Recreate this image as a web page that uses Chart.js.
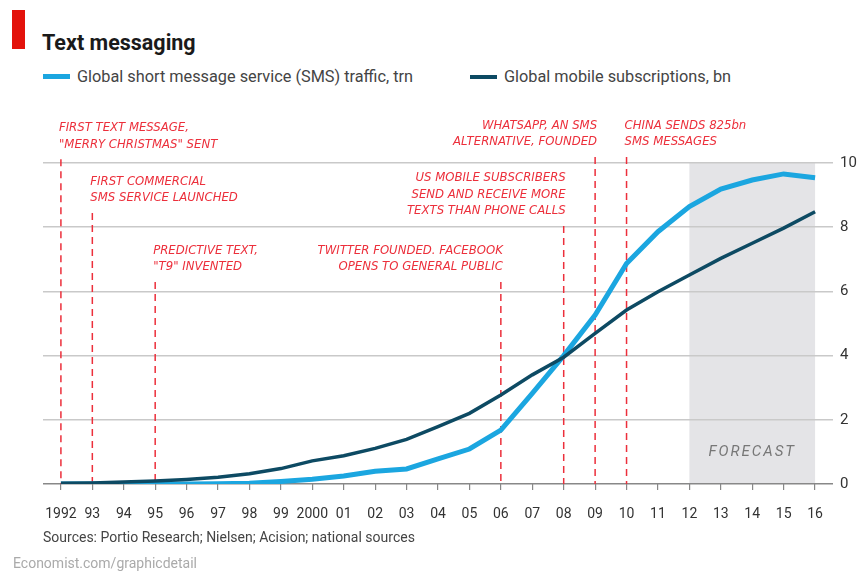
<!DOCTYPE html>
<html>
<head>
<meta charset="utf-8">
<script src="https://cdn.jsdelivr.net/npm/chart.js@4.4.0/dist/chart.umd.min.js"></script>
<style>
  html, body { margin: 0; padding: 0; background: #fff; }
  body { width: 861px; height: 571px; position: relative; overflow: hidden; font-family: Roboto, 'Liberation Sans', sans-serif; color: #333; }
  #chart { position: absolute; left: 0; top: 0; }
  .abs { position: absolute; white-space: nowrap; }
  .bar { left: 12px; top: 10px; width: 13px; height: 39px; background: #e3120b; }
  .title { left: 42px; top: 30px; font-size: 21.5px; font-weight: bold; color: #1a1a1a; }
  .swatch { height: 5px; width: 27px; }
  .leg { font-size: 16.3px; color: #444; }
  .src { left: 43px; top: 529px; font-size: 14px; color: #444; }
  .foot { left: 13px; top: 555px; font-size: 14px; color: #aaa; }
</style>
</head>
<body>
<div class="abs bar"></div>
<div class="abs title">Text messaging</div>
<div class="abs swatch" style="left:43px; top:74px; background:#1ba6e0;"></div>
<div class="abs leg" style="left:77px; top:67px;">Global short message service (SMS) traffic, trn</div>
<div class="abs swatch" style="left:470px; top:75px; height:4px; background:#0d4a63;"></div>
<div class="abs leg" style="left:504px; top:67px;">Global mobile subscriptions, bn</div>
<canvas id="chart" width="861" height="571"></canvas>
<div class="abs src">Sources: Portio Research; Nielsen; Acision; national sources</div>
<div class="abs foot">Economist.com/graphicdetail</div>

<script>
const years = [1992, 1993, 1994, 1995, 1996, 1997, 1998, 1999, 2000, 2001, 2002, 2003, 2004,
  2005, 2006, 2007, 2008, 2009, 2010, 2011, 2012, 2013, 2014, 2015, 2016];
const yearLabels = ['1992', '93', '94', '95', '96', '97', '98', '99', '2000', '01', '02', '03', '04',
  '05', '06', '07', '08', '09', '10', '11', '12', '13', '14', '15', '16'];

// trillions of messages
const smsTraffic = [0, 0, 0, 0, 0, 0.01, 0.02, 0.08, 0.15, 0.25, 0.4, 0.47, 0.78,
  1.09, 1.68, 2.82, 4.0, 5.26, 6.87, 7.86, 8.64, 9.19, 9.47, 9.66, 9.54];
// billions of subscriptions
const mobileSubs = [0.02, 0.03, 0.06, 0.09, 0.14, 0.21, 0.32, 0.48, 0.72, 0.88, 1.11, 1.39, 1.79,
  2.2, 2.77, 3.4, 3.95, 4.69, 5.42, 5.99, 6.51, 7.03, 7.5, 7.97, 8.48];

const forecastFrom = 2012;
const forecastTo = 2016;

const events = [
  { year: 1992, top: 10.12, align: 'left', lines: ['FIRST TEXT MESSAGE,', '"MERRY CHRISTMAS" SENT'] },
  { year: 1993, top: 8.44, align: 'left', lines: ['FIRST COMMERCIAL', 'SMS SERVICE LAUNCHED'] },
  { year: 1995, top: 6.29, align: 'left', lines: ['PREDICTIVE TEXT,', '"T9" INVENTED'] },
  { year: 2006, top: 6.29, align: 'right', lines: ['TWITTER FOUNDED. FACEBOOK', 'OPENS TO GENERAL PUBLIC'] },
  { year: 2008, top: 8.04, align: 'right', lines: ['US MOBILE SUBSCRIBERS', 'SEND AND RECEIVE MORE', 'TEXTS THAN PHONE CALLS'] },
  { year: 2009, top: 10.19, align: 'right', lines: ['WHATSAPP, AN SMS', 'ALTERNATIVE, FOUNDED'] },
  { year: 2010, top: 10.19, align: 'left', lines: ['CHINA SENDS 825bn', 'SMS MESSAGES'] }
];

const RED = '#ec2f3b';

// grey forecast band, drawn under the grid
const forecastBand = {
  id: 'forecastBand',
  beforeDraw(chart) {
    const { ctx, chartArea, scales: { x } } = chart;
    const x0 = x.getPixelForValue(forecastFrom);
    const x1 = x.getPixelForValue(forecastTo);
    ctx.save();
    ctx.fillStyle = '#e4e4e7';
    ctx.fillRect(x0, chartArea.top, x1 - x0, chartArea.bottom - chartArea.top);
    ctx.restore();
  },
  beforeDatasetsDraw(chart) {
    const { ctx, scales: { x, y } } = chart;
    ctx.save();
    ctx.fillStyle = '#777';
    ctx.font = 'italic 15px Roboto, "Liberation Sans", sans-serif';
    ctx.letterSpacing = '2px';
    ctx.textAlign = 'center';
    ctx.textBaseline = 'middle';
    ctx.fillText('FORECAST', (x.getPixelForValue(forecastFrom) + x.getPixelForValue(forecastTo)) / 2, y.getPixelForValue(1));
    ctx.restore();
  }
};

// red dashed event markers with their notes
const eventMarkers = {
  id: 'eventMarkers',
  beforeDatasetsDraw(chart) {
    const { ctx, chartArea, scales: { x, y } } = chart;
    ctx.save();
    ctx.strokeStyle = RED;
    ctx.fillStyle = RED;
    ctx.lineWidth = 1.5;
    ctx.setLineDash([7, 5]);
    ctx.font = 'italic 13px "Liberation Sans Narrow", "DejaVu Sans Condensed", sans-serif';
    ctx.textBaseline = 'middle';
    events.forEach(ev => {
      const px = x.getPixelForValue(ev.year);
      const top = y.getPixelForValue(ev.top);
      ctx.beginPath();
      ctx.moveTo(px, top);
      ctx.lineTo(px, chartArea.bottom);
      ctx.stroke();
      ctx.textAlign = ev.align;
      const n = ev.lines.length;
      ev.lines.forEach((t, i) => {
        ctx.fillText(t, px + (ev.align === 'left' ? -2 : 2), top - 15 - (n - 1 - i) * 16.5);
      });
    });
    ctx.restore();
  }
};

new Chart(document.getElementById('chart').getContext('2d'), {
  type: 'line',
  data: {
    datasets: [
      {
        label: 'Global mobile subscriptions, bn',
        data: years.map((yr, i) => ({ x: yr, y: mobileSubs[i] })),
        borderColor: '#0d4a63',
        borderWidth: 3.5,
        pointRadius: 0,
        tension: 0
      },
      {
        label: 'Global short message service (SMS) traffic, trn',
        data: years.map((yr, i) => ({ x: yr, y: smsTraffic[i] })),
        borderColor: '#1ba6e0',
        borderWidth: 5,
        pointRadius: 0,
        tension: 0
      }
    ]
  },
  options: {
    responsive: false,
    animation: false,
    layout: { padding: { left: 43, top: 163, right: 0, bottom: 49 } },
    plugins: {
      legend: { display: false },
      tooltip: { enabled: false }
    },
    scales: {
      x: {
        type: 'linear',
        min: 1991.43,
        max: 2016.57,
        afterBuildTicks: scale => { scale.ticks = years.map(v => ({ value: v })); },
        afterFit: scale => { scale.height = 38; },
        ticks: {
          autoSkip: false,
          maxRotation: 0,
          padding: 16,
          color: '#333',
          font: { family: 'Roboto, "Liberation Sans", sans-serif', size: 14 },
          callback: v => yearLabels[years.indexOf(v)]
        },
        grid: { drawOnChartArea: false, drawTicks: true, tickLength: 6, color: '#888', lineWidth: 1.2 },
        border: { display: false }
      },
      y: {
        position: 'right',
        min: 0,
        max: 10,
        afterFit: scale => { scale.width = 28; },
        ticks: {
          stepSize: 2,
          padding: 7,
          color: '#333',
          font: { family: 'Roboto, "Liberation Sans", sans-serif', size: 15 }
        },
        grid: {
          drawTicks: false,
          color: ctx => ctx.tick && ctx.tick.value === 0 ? '#888' : '#c9c9c9',
          lineWidth: 1.5
        },
        border: { display: false }
      }
    }
  },
  plugins: [forecastBand, eventMarkers]
});
</script>
</body>
</html>
